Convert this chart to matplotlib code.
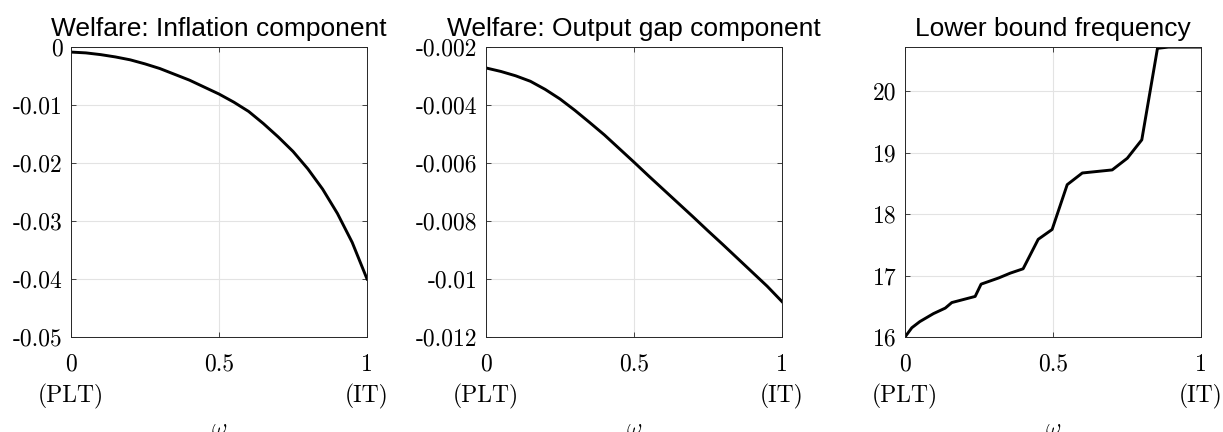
import matplotlib
matplotlib.use("Agg")
import matplotlib.pyplot as plt

plt.rcParams['mathtext.fontset'] = 'cm'
plt.rcParams['axes.unicode_minus'] = False

# omega grid for the welfare panels
omega = [0.0, 0.05, 0.1, 0.15, 0.2, 0.25, 0.3, 0.35, 0.4, 0.45, 0.5,
         0.55, 0.6, 0.65, 0.7, 0.75, 0.8, 0.85, 0.9, 0.95, 1.0]
infl = [-0.00086, -0.00100, -0.0013, -0.0017, -0.0022, -0.0029, -0.0037,
        -0.0047, -0.0057, -0.0069, -0.0081, -0.0095, -0.0111, -0.0132,
        -0.0155, -0.0180, -0.0210, -0.0245, -0.0287, -0.0337, -0.0400]
gap = [-0.00272, -0.00284, -0.00299, -0.00318, -0.00346, -0.00379, -0.00418,
       -0.00460, -0.00503, -0.00550, -0.00597, -0.00645, -0.00692, -0.00739,
       -0.00786, -0.00834, -0.00881, -0.00929, -0.00977, -0.01025, -0.01078]

# lower bound frequency
omega_lb = [0.0, 0.023, 0.05, 0.096, 0.136, 0.158, 0.237, 0.257, 0.316,
            0.356, 0.399, 0.45, 0.497, 0.548, 0.599, 0.70, 0.751, 0.80,
            0.853, 0.89, 1.0]
lb_freq = [16.0, 16.15, 16.25, 16.38, 16.47, 16.56, 16.66, 16.86, 16.96,
           17.04, 17.11, 17.59, 17.75, 18.48, 18.67, 18.72, 18.91, 19.21,
           20.70, 20.72, 20.72]

titles = ['Welfare: Inflation component', 'Welfare: Output gap component',
          'Lower bound frequency']
xticks = [0, 0.5, 1]
xticklabels = ['0\n(PLT)', '0.5', '1\n(IT)']
yticks = [[0, -0.01, -0.02, -0.03, -0.04, -0.05],
          [-0.002, -0.004, -0.006, -0.008, -0.01, -0.012],
          [16, 17, 18, 19, 20]]
yticklabels = [['0', '-0.01', '-0.02', '-0.03', '-0.04', '-0.05'],
               ['-0.002', '-0.004', '-0.006', '-0.008', '-0.01', '-0.012'],
               ['16', '17', '18', '19', '20']]
ylims = [(-0.05, 0), (-0.012, -0.002), (16, 20.72)]

fig = plt.figure(figsize=(12.23, 4.32), dpi=100)
lefts = [0.0581, 0.3974, 0.740]
axes = [fig.add_axes([l, 0.220, 0.242, 0.671]) for l in lefts]

series = [(omega, infl), (omega, gap), (omega_lb, lb_freq)]
tick_font = dict(family='cmr10', size=17)

for i, ax in enumerate(axes):
    x, y = series[i]
    ax.plot(x, y, color='black', lw=2.1)
    ax.set_xlim(0, 1)
    ax.set_ylim(*ylims[i])
    ax.set_xticks(xticks)
    ax.set_xticklabels(xticklabels, fontdict=tick_font, linespacing=1.45, va='top')
    ax.set_yticks(yticks[i])
    ax.set_yticklabels(yticklabels[i], fontdict=tick_font)
    ax.grid(True, color='#e3e3e3', lw=0.8)
    ax.set_axisbelow(True)
    ax.tick_params(direction='in', length=3.5, width=0.6, color='#262626',
                   top=True, right=True)
    ax.tick_params(axis='x', pad=12)
    ax.tick_params(axis='y', pad=6)
    for s in ax.spines.values():
        s.set_color('#262626')
        s.set_linewidth(0.7)
    ax.set_title(titles[i], fontsize=19, family='Liberation Sans', pad=8)
    ax.set_xlabel(r'$\omega$', fontsize=17, labelpad=5)

fig.savefig('out.png', dpi=100)
